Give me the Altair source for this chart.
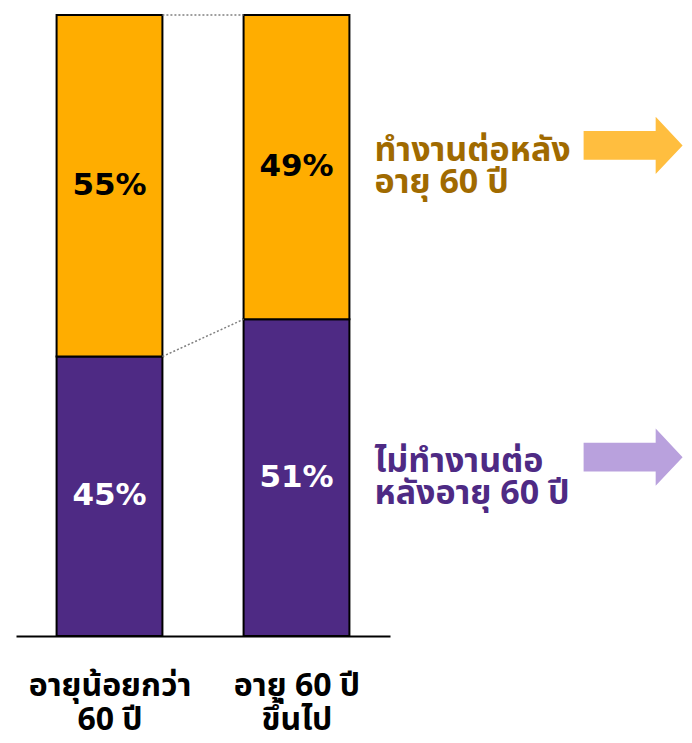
import altair as alt
import pandas as pd

# ---- data ----
groups = ["อายุน้อยกว่า 60 ปี", "อายุ 60 ปี ขึ้นไป"]
group_pos = [0, 1]
axis_lines = [["อายุน้อยกว่า", "60 ปี"], ["อายุ 60 ปี", "ขึ้นไป"]]
not_working = [45, 51]   # ไม่ทำงานต่อหลังอายุ 60 ปี (bottom, purple)
working = [55, 49]       # ทำงานต่อหลังอายุ 60 ปี (top, orange)
series_names = ["ไม่ทำงานต่อหลังอายุ 60 ปี", "ทำงานต่อหลังอายุ 60 ปี"]
legend_lines = [["ไม่ทำงานต่อ", "หลังอายุ 60 ปี"], ["ทำงานต่อหลัง", "อายุ 60 ปี"]]

PURPLE = "#4E2A84"
ORANGE = "#FFAD00"
HALF = 0.283
THAI_FONT = "Tahoma, 'Noto Sans Thai', 'Noto Sans Thai UI', Loma, Garuda, 'DejaVu Sans', sans-serif"

rows = []
for g, p, nw, w in zip(groups, group_pos, not_working, working):
    rows.append(dict(group=g, pos=p, x0=p - HALF, x1=p + HALF, series=series_names[0],
                     y0=0, y1=nw, mid=nw / 2, label=f"{nw}%", tcolor="white"))
    rows.append(dict(group=g, pos=p, x0=p - HALF, x1=p + HALF, series=series_names[1],
                     y0=nw, y1=nw + w, mid=nw + w / 2, label=f"{w}%", tcolor="black"))
bars_df = pd.DataFrame(rows)

# connectors between bars (top at 100%, boundary between segments)
conn_df = pd.DataFrame({
    "xa": [group_pos[0] + HALF, group_pos[0] + HALF],
    "xb": [group_pos[1] - HALF, group_pos[1] - HALF],
    "ya": [not_working[0] + working[0], not_working[0]],
    "yb": [not_working[1] + working[1], not_working[1]],
})

# side labels, placed beside second bar's segments
side_df = pd.DataFrame({
    "x": [1.417, 1.417],
    "y": [not_working[1] / 2, not_working[1] + working[1] / 2],
    "text": legend_lines,
    "color": [PURPLE, "#A06A00"],
})
arrow_df = pd.DataFrame({
    "x": [2.80, 2.80],
    "y": [28.8, 79.0],
    "color": ["#B9A1DD", "#FFBE3F"],
})

xscale = alt.Scale(domain=[-0.5, 1.5], nice=False, zero=False)
yscale = alt.Scale(domain=[0, 100], nice=False, zero=True)

label_expr = "datum.value == 0 ? {} : {}".format(
    "[" + ",".join(f"'{s}'" for s in axis_lines[0]) + "]",
    "[" + ",".join(f"'{s}'" for s in axis_lines[1]) + "]",
)

bars = alt.Chart(bars_df).mark_rect(stroke="black", strokeWidth=2).encode(
    x=alt.X("x0:Q", scale=xscale,
            axis=alt.Axis(values=group_pos, labelExpr=label_expr, title=None, ticks=False,
                          grid=False, domainColor="black", domainWidth=2, labelFontSize=32,
                          labelFont=THAI_FONT, labelFontWeight="bold", labelColor="black",
                          labelPadding=34, labelLineHeight=34, labelOverlap=False,
                          labelFlush=False)),
    x2="x1:Q",
    y=alt.Y("y0:Q", scale=yscale, axis=None),
    y2="y1:Q",
    color=alt.Color("series:N", scale=alt.Scale(domain=series_names, range=[PURPLE, ORANGE]),
                    legend=None),
)

pct = alt.Chart(bars_df).mark_text(font="DejaVu Sans", fontWeight="bold", fontSize=31,
                                   baseline="middle", align="center").encode(
    x=alt.X("pos:Q", scale=xscale),
    y=alt.Y("mid:Q", scale=yscale),
    text="label:N",
    color=alt.Color("tcolor:N", scale=None),
)

conn = alt.Chart(conn_df).mark_rule(color="#808080", strokeDash=[2, 2], strokeWidth=1.5).encode(
    x=alt.X("xa:Q", scale=xscale), x2="xb:Q",
    y=alt.Y("ya:Q", scale=yscale), y2="yb:Q",
)

side = alt.Chart(side_df).mark_text(font=THAI_FONT, fontWeight="bold", fontSize=34,
                                    align="left", baseline="middle", lineHeight=32,
                                    dy=-16).encode(
    x=alt.X("x:Q", scale=xscale),
    y=alt.Y("y:Q", scale=yscale),
    text="text",
    color=alt.Color("color:N", scale=None),
)

ARROW = "M-1,-0.29 L0.456,-0.29 L0.456,-0.58 L1,0 L0.456,0.58 L0.456,0.29 L-1,0.29 Z"
arrows = alt.Chart(arrow_df).mark_point(shape=ARROW, filled=True, opacity=1, size=9800,
                                        strokeWidth=0).encode(
    x=alt.X("x:Q", scale=xscale),
    y=alt.Y("y:Q", scale=yscale),
    color=alt.Color("color:N", scale=None),
)

chart = alt.layer(bars, conn, pct, side, arrows).properties(
    width=374, height=621,
    autosize=alt.AutoSizeParams(type="none"),
    padding={"left": 8, "top": 7, "right": 294, "bottom": 99},
).configure_view(stroke=None)

chart.save("out.html", embed_options={"renderer": "svg", "actions": False})
